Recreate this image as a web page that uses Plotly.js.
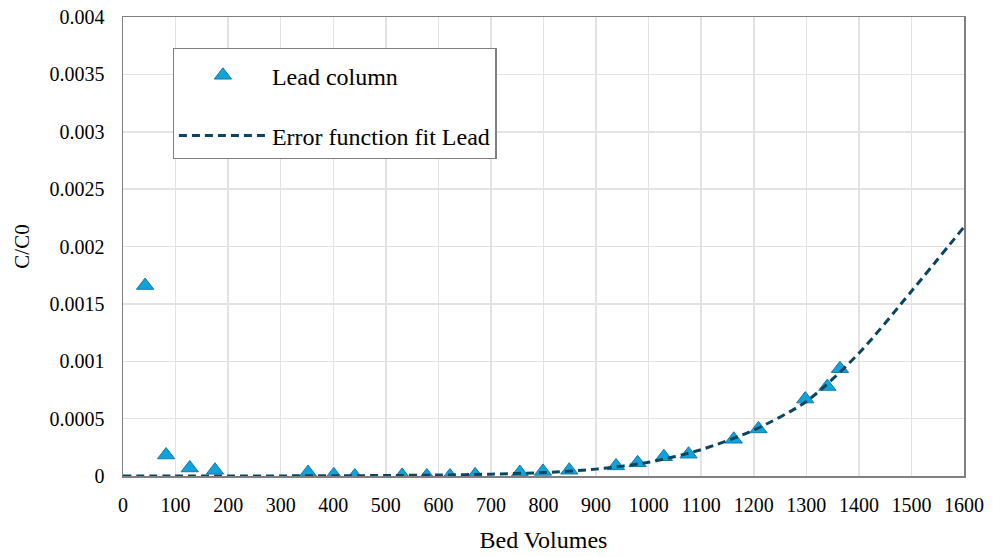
<!DOCTYPE html>
<html>
<head>
<meta charset="utf-8">
<script src="https://cdn.plot.ly/plotly-3.0.1.min.js"></script>
<style>html,body{margin:0;padding:0;background:#fff;}#chart{width:993px;height:557px;}</style>
</head>
<body>
<div id="chart"></div>
<script>
const bedVolumes = [42, 82, 127, 175, 352, 401, 441, 531, 578, 622, 670, 755, 799, 849, 938, 979, 1029, 1076, 1162, 1209, 1298, 1340, 1364];
const leadCC0 = [0.00166, 0.000183, 0.00007, 0.00005, 0.00003, 0.00001, 0.0, 0.000005, 0.0, 0.0, 0.00001, 0.00003, 0.00004, 0.00005, 0.000088, 0.000115, 0.000168, 0.00019, 0.00032, 0.00041, 0.00067, 0.00078, 0.000935];
const fitBedVolumes = [0, 100, 200, 300, 400, 500, 600, 700, 800, 900, 1000, 1100, 1200, 1300, 1400, 1500, 1600];
const fitCC0 = [0, 0, 0, 0.000001, 0.000002, 0.000004, 0.000008, 0.000016, 0.00003, 0.00006, 0.00012, 0.00023, 0.0004, 0.00065, 0.00107, 0.00161, 0.00217];
const xTickVals = [0,100,200,300,400,500,600,700,800,900,1000,1100,1200,1300,1400,1500,1600];
const yTickVals = [0, 0.0005, 0.001, 0.0015, 0.002, 0.0025, 0.003, 0.0035, 0.004];
const yTickText = ['0', '0.0005', '0.001', '0.0015', '0.002', '0.0025', '0.003', '0.0035', '0.004'];

const font = 'Times New Roman, Liberation Serif, serif';

const traces = [
  {
    x: bedVolumes, y: leadCC0, type: 'scatter', mode: 'markers', name: 'Lead column',
    legendgroup: 'a',
    marker: {symbol: 'triangle-up', size: 15, color: '#0fa3dc', line: {color: '#1b78a8', width: 1}}
  },
  {
    x: fitBedVolumes, y: fitCC0, type: 'scatter', mode: 'lines', name: 'Error function fit Lead',
    legendgroup: 'b',
    line: {color: '#0b4660', width: 3, dash: '8px,5px', shape: 'spline', smoothing: 0.8}
  }
];

const layout = {
  width: 993, height: 557,
  margin: {l: 123, r: 29, t: 17, b: 81},
  paper_bgcolor: '#ffffff', plot_bgcolor: '#ffffff',
  font: {family: font, size: 21, color: '#000000'},
  showlegend: true,
  legend: {
    x: 0.059, y: 0.9325, xanchor: 'left', yanchor: 'top',
    bgcolor: '#ffffff', bordercolor: '#808080', borderwidth: 1.3,
    font: {family: font, size: 24, color: '#000'},
    title: {text: ' ', font: {size: 3}},
    traceorder: 'grouped', tracegroupgap: 26, itemwidth: 88
  },
  xaxis: {
    range: [0, 1600], tickvals: xTickVals, ticktext: xTickVals.map(String),
    showgrid: true, gridcolor: '#e3e3e3', gridwidth: 1.5,
    showline: true, linecolor: '#808080', linewidth: 1.5, mirror: true,
    zeroline: false, ticks: '', ticklabelstandoff: 10,
    tickfont: {family: font, size: 20, color: '#000'},
    title: {text: 'Bed Volumes', font: {family: font, size: 24, color: '#000'}, standoff: 16}
  },
  yaxis: {
    range: [0, 0.004], tickvals: yTickVals, ticktext: yTickText,
    showgrid: true, gridcolor: '#e3e3e3', gridwidth: 1.5,
    showline: true, linecolor: '#808080', linewidth: 1.5, mirror: true,
    zeroline: false, ticks: '', ticklabelstandoff: 13,
    tickfont: {family: font, size: 20, color: '#000'},
    title: {text: 'C/C0', font: {family: font, size: 21, color: '#000'}, standoff: 14}
  }
};

Plotly.newPlot('chart', traces, layout, {displayModeBar: false, staticPlot: true});
</script>
</body>
</html>
